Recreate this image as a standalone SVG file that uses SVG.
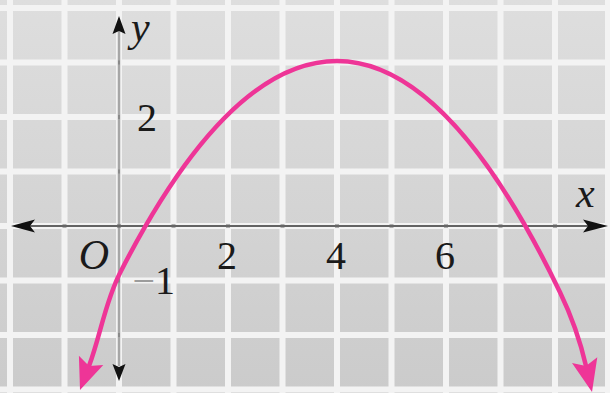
<svg xmlns="http://www.w3.org/2000/svg" width="610" height="393" viewBox="0 0 610 393">
  <defs>
    <linearGradient id="bg" x1="0" y1="0" x2="0" y2="1">
      <stop offset="0" stop-color="#dedede"/>
      <stop offset="1" stop-color="#cbcbcb"/>
    </linearGradient>
    <style>
      .grid line { stroke: #f3f3f3; stroke-width: 6; }
      .tick { stroke: #8a8a8a; stroke-width: 2; }
      .lbl { font-family: "Liberation Serif", "Times New Roman", serif; font-size: 40px; fill: #1a1a1a; }
      .var { font-family: "Liberation Serif", "Times New Roman", serif; font-size: 42px; font-style: italic; fill: #1a1a1a; }
      .curve { fill: none; stroke: #ee3597; stroke-width: 4.5; stroke-linecap: round; stroke-linejoin: round; }
      .head { fill: #ee3597; }
      .axhead { fill: #111; }
    </style>
  </defs>

  <rect id="background" x="0" y="0" width="610" height="393" fill="url(#bg)"/>

  <g id="grid" class="grid">
    <line x1="10" y1="0" x2="10" y2="393"/>
    <line x1="64.5" y1="0" x2="64.5" y2="393"/>
    <line x1="119" y1="0" x2="119" y2="393"/>
    <line x1="173.5" y1="0" x2="173.5" y2="393"/>
    <line x1="228" y1="0" x2="228" y2="393"/>
    <line x1="282.5" y1="0" x2="282.5" y2="393"/>
    <line x1="337" y1="0" x2="337" y2="393"/>
    <line x1="391.5" y1="0" x2="391.5" y2="393"/>
    <line x1="446" y1="0" x2="446" y2="393"/>
    <line x1="500.5" y1="0" x2="500.5" y2="393"/>
    <line x1="555" y1="0" x2="555" y2="393"/>
    <line x1="608" y1="0" x2="608" y2="393"/>
    <line x1="0" y1="8" x2="610" y2="8"/>
    <line x1="0" y1="62.5" x2="610" y2="62.5"/>
    <line x1="0" y1="117" x2="610" y2="117"/>
    <line x1="0" y1="171.5" x2="610" y2="171.5"/>
    <line x1="0" y1="226" x2="610" y2="226"/>
    <line x1="0" y1="280.5" x2="610" y2="280.5"/>
    <line x1="0" y1="335" x2="610" y2="335"/>
    <line x1="0" y1="389.5" x2="610" y2="389.5"/>
  </g>

  <g id="axes">
    <g id="y-axis">
      <line x1="119" y1="30" x2="119" y2="366" stroke="#a6a6a6" stroke-width="2.5"/>
      <path class="axhead" d="M119,16 L125.5,34 L119,31 L112.5,34 Z"/>
      <path class="axhead" d="M119,381 L125.5,364 L119,367 L112.5,364 Z"/>
      <line class="tick" x1="119" y1="60.5" x2="119" y2="64.5"/>
      <line class="tick" x1="119" y1="115" x2="119" y2="119"/>
      <line class="tick" x1="119" y1="169.5" x2="119" y2="173.5"/>
      <line class="tick" x1="119" y1="278.5" x2="119" y2="282.5"/>
      <line class="tick" x1="119" y1="333" x2="119" y2="337"/>
    </g>
    <g id="x-axis">
      <line x1="24" y1="226" x2="594" y2="226" stroke="#333" stroke-width="1.6"/>
      <path class="axhead" d="M11,226 L35,219.5 L30,226 L35,232.5 Z"/>
      <path class="axhead" d="M608,226 L583,219.5 L588,226 L583,232.5 Z"/>
      <g class="ticks" stroke="#666" stroke-width="3">
        <line x1="62.5" y1="226" x2="66.5" y2="226"/>
        <line x1="117" y1="226" x2="121" y2="226"/>
        <line x1="171.5" y1="226" x2="175.5" y2="226"/>
        <line x1="226" y1="226" x2="230" y2="226"/>
        <line x1="280.5" y1="226" x2="284.5" y2="226"/>
        <line x1="335" y1="226" x2="339" y2="226"/>
        <line x1="389.5" y1="226" x2="393.5" y2="226"/>
        <line x1="444" y1="226" x2="448" y2="226"/>
        <line x1="498.5" y1="226" x2="502.5" y2="226"/>
        <line x1="553" y1="226" x2="557" y2="226"/>
      </g>
    </g>
  </g>

  <g id="curve">
    <path class="curve" d="M89,366 C100.6,335 105,302.3 120,272.9 Q228.5,61 337,61 Q448.5,61 560,292.2 C571.3,315.6 580.2,340.7 586,366"/>
    <path class="head" d="M80,390 L78.9,355.8 L89,366 L103.3,365 Z"/>
    <path class="head" d="M592,392 L597.3,357.2 L586,366 L572,363.1 Z"/>
  </g>

  <g id="labels">
    <text id="label-y" class="var" x="131" y="41">y</text>
    <text id="label-x" class="var" x="576" y="207">x</text>
    <text id="label-origin" class="var" x="94" y="269" text-anchor="middle">O</text>
    <text id="label-x2" class="lbl" x="227" y="269" text-anchor="middle">2</text>
    <text id="label-x4" class="lbl" x="336" y="269" text-anchor="middle">4</text>
    <text id="label-x6" class="lbl" x="445" y="269" text-anchor="middle">6</text>
    <text id="label-y2" class="lbl" x="147" y="131" text-anchor="middle">2</text>
    <text id="label-ym1" class="lbl" x="175" y="294" text-anchor="end"><tspan fill="#9c9c9c">−</tspan>1</text>
  </g>
</svg>
